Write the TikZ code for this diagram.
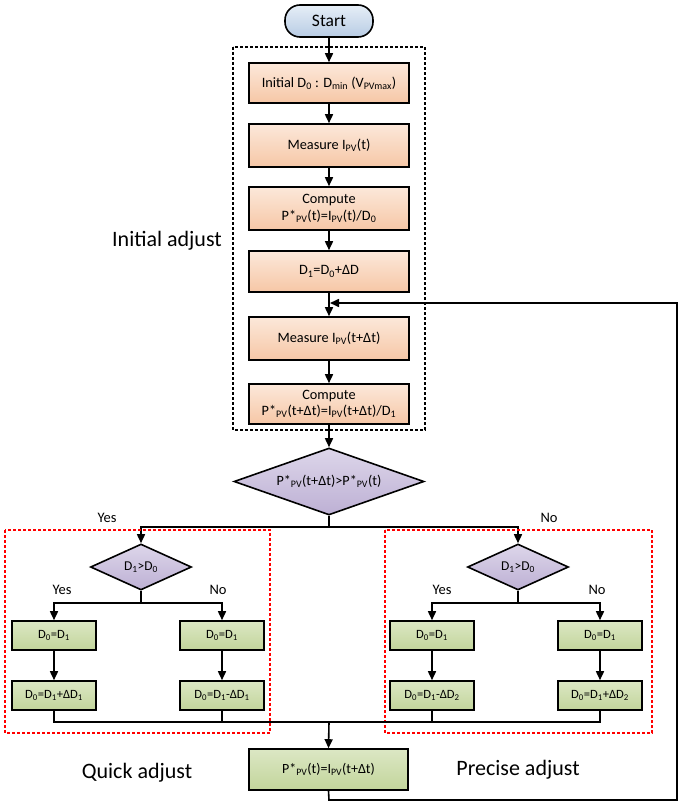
\documentclass[tikz,border=0pt]{standalone}
\usepackage{fontspec}
\setmainfont{Carlito}
\usetikzlibrary{shapes.geometric,arrows.meta}
\newcommand{\sbs}[1]{\textsubscript{#1}}
\definecolor{startT}{HTML}{E6EEF7}\definecolor{startB}{HTML}{B8CCE4}
\definecolor{orT}{HTML}{FCE8DA}\definecolor{orB}{HTML}{F6C7A6}
\definecolor{puT}{HTML}{DDD6EA}\definecolor{puB}{HTML}{BDB0D4}
\definecolor{grT}{HTML}{DCE7C4}\definecolor{grB}{HTML}{C2D59B}
\definecolor{redd}{HTML}{FF0000}
\begin{document}
\begin{tikzpicture}[x=1pt,y=-1pt,
  base/.style={draw, line width=1.6pt, inner sep=1pt, align=center},
  startbox/.style={base, rounded corners=15pt, top color=startT, bottom color=startB, minimum width=88pt, minimum height=32pt, font=\fontsize{17.5}{19}\selectfont},
  orbox/.style={base, top color=orT, bottom color=orB, minimum width=160pt, font=\fontsize{14.3}{16.5}\selectfont},
  pudia/.style={base, diamond, inner sep=0pt, top color=puT, bottom color=puB},
  grbox/.style={base, top color=grT, bottom color=grB, minimum width=84pt, minimum height=29pt, font=\fontsize{12.6}{14}\selectfont},
  arr/.style={line width=1.6pt, -{Triangle[length=9pt,width=8pt]}},
  ln/.style={line width=1.6pt},
  lbl/.style={font=\fontsize{14.5}{16}\selectfont},
  big/.style={font=\fontsize{22}{26}\selectfont},
  grp/.style={line width=1.4pt, dash pattern=on 3pt off 2pt}
]
\useasboundingbox (0,0) rectangle (685,805);

\node[startbox] (st) at (329,21) {Start};
\node[orbox, minimum height=40pt] (b1) at (329,83) {Initial D\sbs{0} : D\sbs{min} (V\sbs{PVmax})};
\node[orbox, minimum height=43pt] (b2) at (329,145.5) {Measure I\sbs{PV}(t)};
\node[orbox, minimum height=43pt] (b3) at (329,208.5) {Compute\\P*\sbs{PV}(t)=I\sbs{PV}(t)/D\sbs{0}};
\node[orbox, minimum height=41pt] (b4) at (329,271.5) {D\sbs{1}=D\sbs{0}+ΔD};
\node[orbox, minimum height=43pt] (b5) at (329,338.5) {Measure I\sbs{PV}(t+Δt)};
\node[orbox, minimum height=40pt] (b6) at (329,404) {Compute\\P*\sbs{PV}(t+Δt)=I\sbs{PV}(t+Δt)/D\sbs{1}};

\draw[grp] (233,47) rectangle (425,430);
\node[big] (ia) at (167,241) {Initial adjust};

\node[pudia, aspect=2.8, minimum width=190pt, minimum height=67pt, font=\fontsize{14.2}{16}\selectfont] (dm) at (329,481.5) {P*\sbs{PV}(t+Δt)>P*\sbs{PV}(t)};

\draw[arr] (st) -- (b1);
\draw[arr] (b1) -- (b2);
\draw[arr] (b2) -- (b3);
\draw[arr] (b3) -- (b4);
\draw[arr] (b4) -- (b5);
\draw[arr] (b5) -- (b6);
\draw[arr] (b6) -- (dm);

\node[pudia, aspect=2.2, minimum width=101pt, minimum height=46pt, font=\fontsize{13.5}{15}\selectfont] (ld) at (141,567) {D\sbs{1}>D\sbs{0}};
\node[pudia, aspect=2.2, minimum width=101pt, minimum height=46pt, font=\fontsize{13.5}{15}\selectfont] (rd) at (518,567) {D\sbs{1}>D\sbs{0}};

\coordinate (sp) at (329,527);
\draw[ln] (dm.south) -- (sp);
\draw[arr] (sp) -| (ld.north);
\draw[arr] (sp) -| (rd.north);
\node[lbl] (y0) at (107,518) {Yes};
\node[lbl] (n0) at (549,518) {No};

\node[grbox] (l1) at (54,635.5) {D\sbs{0}=D\sbs{1}};
\node[grbox] (l2) at (222,635.5) {D\sbs{0}=D\sbs{1}};
\node[grbox] (l3) at (54,695.5) {D\sbs{0}=D\sbs{1}+ΔD\sbs{1}};
\node[grbox] (l4) at (222,695.5) {D\sbs{0}=D\sbs{1}-ΔD\sbs{1}};
\node[grbox] (r1) at (432,635.5) {D\sbs{0}=D\sbs{1}};
\node[grbox] (r2) at (600,635.5) {D\sbs{0}=D\sbs{1}};
\node[grbox] (r3) at (432,695.5) {D\sbs{0}=D\sbs{1}-ΔD\sbs{2}};
\node[grbox] (r4) at (600,695.5) {D\sbs{0}=D\sbs{1}+ΔD\sbs{2}};

\coordinate (lsp) at (141,603);
\coordinate (rsp) at (518,603);
\draw[ln] (ld.south) -- (lsp);
\draw[arr] (lsp) -| (l1.north);
\draw[arr] (lsp) -| (l2.north);
\draw[ln] (rd.south) -- (rsp);
\draw[arr] (rsp) -| (r1.north);
\draw[arr] (rsp) -| (r2.north);
\node[lbl] (y1) at (62,590) {Yes};
\node[lbl] (n1) at (218,590) {No};
\node[lbl] (y2) at (442,590) {Yes};
\node[lbl] (n2) at (597,590) {No};

\draw[arr] (l1) -- (l3);
\draw[arr] (l2) -- (l4);
\draw[arr] (r1) -- (r3);
\draw[arr] (r2) -- (r4);

\draw[grp, redd] (5,530) rectangle (270,733);
\draw[grp, redd] (385,530) rectangle (652,733);

\node[grbox, minimum width=159pt, minimum height=41pt, font=\fontsize{14}{16}\selectfont] (fin) at (328.5,769.5) {P*\sbs{PV}(t)=I\sbs{PV}(t+Δt)};

\coordinate (cl) at (54,722);
\coordinate (cr) at (600,722);
\coordinate (cm) at (329,722);
\draw[ln] (l3.south) -- (cl) -- (cr) -- (r4.south);
\draw[ln] (l4.south) -- (222,722);
\draw[ln] (r3.south) -- (432,722);
\draw[arr] (cm) -- (fin.north);

\coordinate (fb1) at (329,800);
\coordinate (fb2) at (677,800);
\coordinate (fb3) at (677,303);
\coordinate (fb4) at (330,303);
\draw[arr] (fin.south) -- (fb1) -- (fb2) -- (fb3) -- (fb4);

\node[big] (qa) at (137,773) {Quick adjust};
\node[big] (pa) at (518,770) {Precise adjust};
\end{tikzpicture}
\end{document}
